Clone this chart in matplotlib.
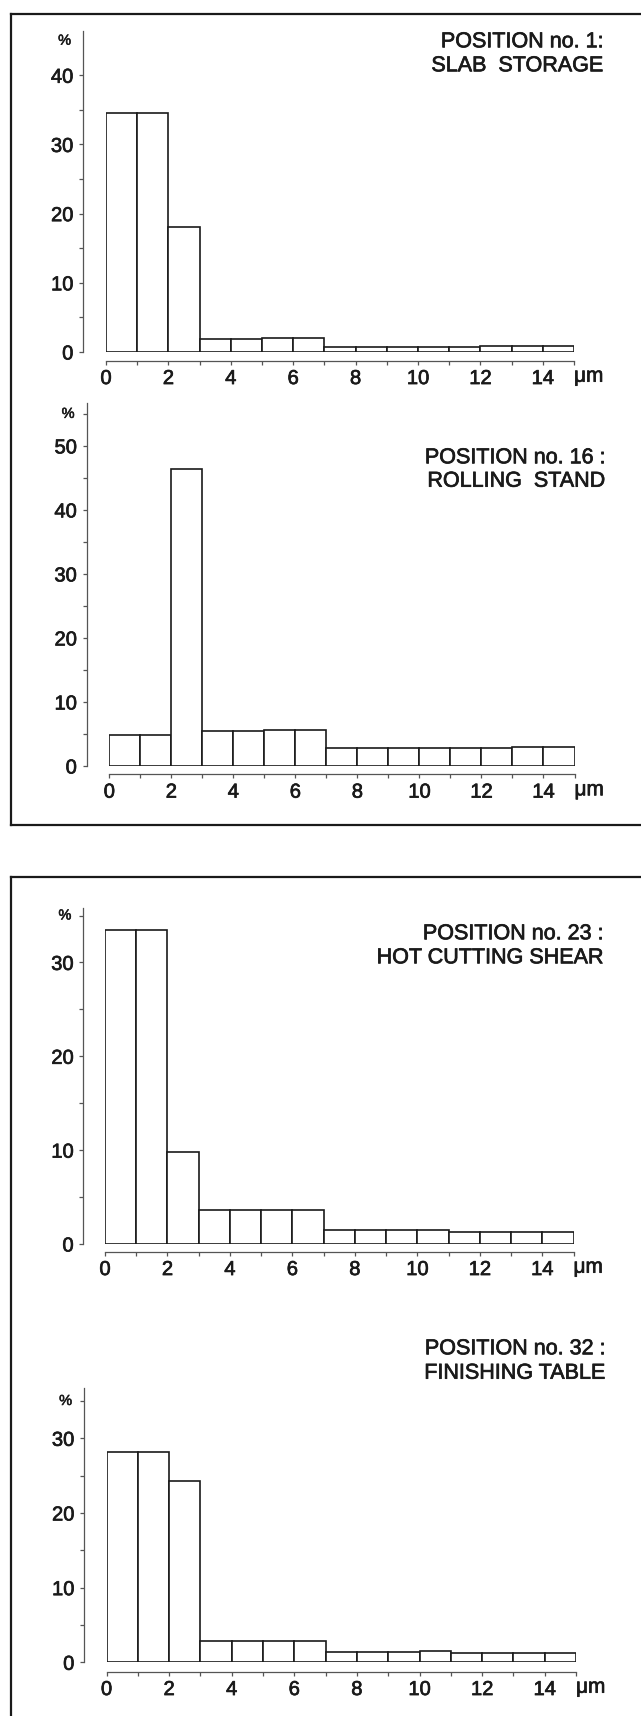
import matplotlib
matplotlib.use("Agg")
import matplotlib.pyplot as plt
from matplotlib.lines import Line2D
import matplotlib.patheffects as pe

plt.rcParams['font.family'] = ['Liberation Sans', 'DejaVu Sans']

W, H = 641, 1716
DPI = 100

# ---------------- data ----------------
bin_edges = list(range(0, 16))          # particle size classes, µm
pos1_slab_storage = [34.6, 34.6, 18.1, 1.9, 1.9, 2.0, 2.0,
                     0.7, 0.7, 0.7, 0.75, 0.75, 0.8, 0.8, 0.85]
pos16_rolling_stand = [4.84, 4.84, 46.4, 5.5, 5.5, 5.65, 5.65,
                       2.8, 2.8, 2.8, 2.8, 2.85, 2.85, 2.9, 2.9]
pos23_hot_cutting_shear = [33.5, 33.5, 9.8, 3.6, 3.6, 3.6, 3.6,
                           1.5, 1.5, 1.5, 1.5, 1.3, 1.3, 1.3, 1.3]
pos32_finishing_table = [28.2, 28.2, 24.3, 2.9, 2.9, 2.9, 2.9,
                         1.35, 1.35, 1.35, 1.5, 1.2, 1.2, 1.2, 1.25]

titles = [("POSITION no. 1:", "SLAB  STORAGE"),
          ("POSITION no. 16 :", "ROLLING  STAND"),
          ("POSITION no. 23 :", "HOT CUTTING SHEAR"),
          ("POSITION no. 32 :", "FINISHING TABLE")]
series = [pos1_slab_storage, pos16_rolling_stand,
          pos23_hot_cutting_shear, pos32_finishing_table]
y_major = [[0, 10, 20, 30, 40], [0, 10, 20, 30, 40, 50],
           [0, 10, 20, 30], [0, 10, 20, 30]]
y_minor = [[5, 15, 25, 35], [5, 15, 25, 35, 45, 55],
           [5, 15, 25, 35], [5, 15, 25, 35]]
pct_level = [45, 55, 35, 35]
x_major = [0, 2, 4, 6, 8, 10, 12, 14]
x_minor = [1, 3, 5, 7, 9, 11, 13, 15]

# ---------------- layout (pixels) ----------------
# x0, x15, baseline, axes top, ytop, y-spine x, x-axis line y
layout = [
    (106.0, 574.0, 352.0, 31.0, 46.4, 83.0, 360.7),
    (109.3, 574.5, 766.0, 403.0, 56.7, 86.5, 774.3),
    (105.0, 573.5, 1244.0, 908.0, 35.8, 83.3, 1251.7),
    (106.5, 576.0, 1662.3, 1388.3, 36.7, 84.0, 1671.7),
]
# right edge x, baseline of line 1, baseline of line 2
title_pos = [(603, 47.3, 71.3), (605, 463.3, 486.7),
             (603, 939.3, 963.3), (605, 1354.3, 1378.7)]

INK = '#1a1a1a'
thick = [pe.withStroke(linewidth=0.5, foreground=INK)]

fig = plt.figure(figsize=(W / DPI, H / DPI), dpi=DPI)
fig.patch.set_facecolor('white')

PT = 72.0 / DPI  # points per pixel


def fx(x):
    return x / W


def fy(y):
    return 1 - y / H


for i in range(4):
    x0, x15, base, top, ytop, spx, xay = layout[i]
    ax = fig.add_axes([fx(x0), fy(base), (x15 - x0) / W, (base - top) / H])
    ax.set_facecolor('none')
    ax.set_xlim(0, 15)
    ax.set_ylim(0, ytop)
    ax.bar(bin_edges[:-1], series[i], width=1.0, align='edge',
           facecolor='white', edgecolor=INK, linewidth=1.2, zorder=3)

    for s in ('top', 'right'):
        ax.spines[s].set_visible(False)
    ax.spines['left'].set_position(('outward', (x0 - spx) * PT))
    ax.spines['bottom'].set_position(('outward', (xay - base) * PT))
    ax.spines['left'].set_bounds(0, ytop)
    ax.spines['bottom'].set_bounds(0, 15)
    for s in ('left', 'bottom'):
        ax.spines[s].set_color('#555555')
        ax.spines[s].set_linewidth(0.9)

    ax.set_yticks(y_major[i])
    ax.set_yticklabels([str(v) for v in y_major[i]])
    ax.set_yticks(y_minor[i], minor=True)
    ax.set_xticks(x_major)
    ax.set_xticklabels([str(v) for v in x_major])
    ax.set_xticks(x_minor, minor=True)
    ax.tick_params(axis='both', which='both', direction='out', color='#555555',
                   width=0.9, length=3.0)
    ax.tick_params(axis='y', which='major', labelsize=14.5, pad=4.0, labelcolor=INK)
    ax.tick_params(axis='x', which='major', labelsize=14.5, pad=3.0, labelcolor=INK)
    for lab in ax.get_xticklabels() + ax.get_yticklabels():
        lab.set_path_effects(thick)

    # percent sign at top of the y axis
    ax.annotate('%', xy=(0, pct_level[i]), xycoords=('axes fraction', 'data'),
                xytext=(-(x0 - spx) - 12, 0), textcoords='offset pixels',
                ha='right', va='center', fontsize=10.5, color=INK,
                path_effects=[pe.withStroke(linewidth=0.4, foreground=INK)])
    # unit label
    ax.annotate('μm', xy=(15, 0), xycoords=('data', 'axes fraction'),
                xytext=(0, -(xay - base) - 21), textcoords='offset pixels',
                ha='left', va='baseline', fontsize=15, color=INK,
                path_effects=thick)

    tx, ty1, ty2 = title_pos[i]
    fig.text(fx(tx), fy(ty1), titles[i][0], ha='right', va='baseline',
             fontsize=15.5, color=INK, path_effects=thick)
    fig.text(fx(tx), fy(ty2), titles[i][1], ha='right', va='baseline',
             fontsize=15.5, color=INK, path_effects=thick)

# frames around panel groups
lw = 1.6
frame_lines = [
    ([10.5, 645], [14, 14]),
    ([10.5, 10.5], [14, 825]),
    ([10.5, 645], [825, 825]),
    ([10.5, 645], [877, 877]),
    ([10.5, 10.5], [877, 1720]),
]
for xs, ys in frame_lines:
    fig.add_artist(Line2D([fx(v) for v in xs], [fy(v) for v in ys],
                          color=INK, linewidth=lw, transform=fig.transFigure))

fig.savefig('out.png', dpi=DPI, facecolor='white')
